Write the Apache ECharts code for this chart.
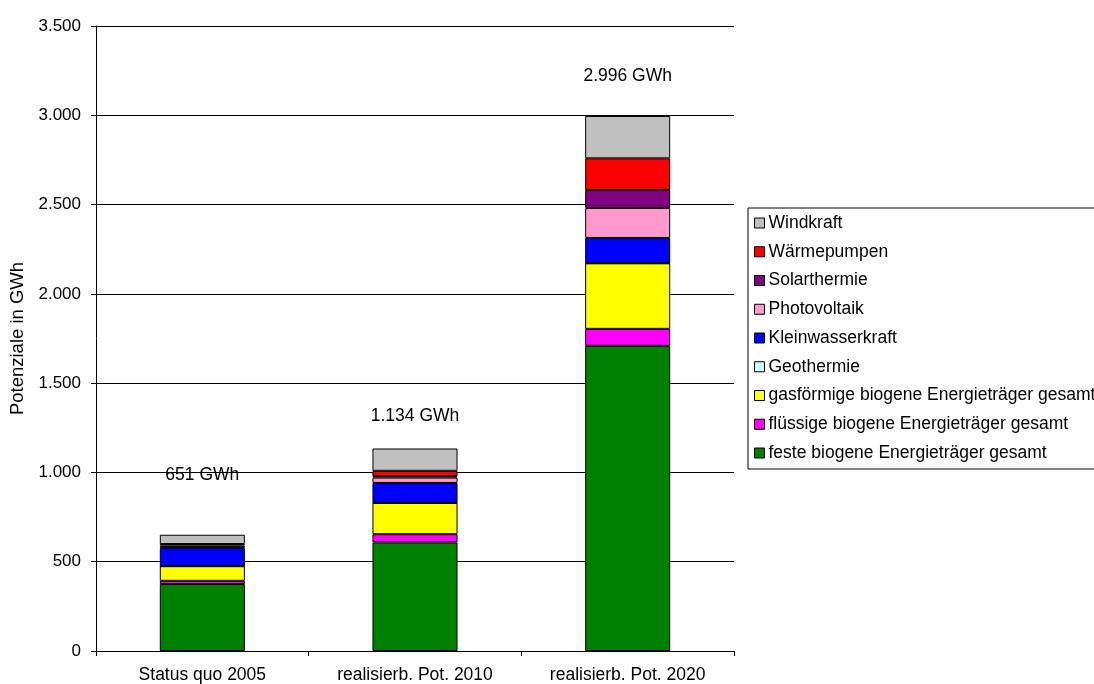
<!DOCTYPE html>
<html>
<head>
<meta charset="utf-8">
<script src="https://cdn.jsdelivr.net/npm/echarts@6/dist/echarts.min.js"></script>
<style>
  html, body { margin: 0; padding: 0; background: #fff; }
  #chart { width: 1094px; height: 684px; }
</style>
</head>
<body>
<div id="chart"></div>
<script>
// Categories (x axis)
const categories = ['Status quo 2005', 'realisierb. Pot. 2010', 'realisierb. Pot. 2020'];

// Energy sources in GWh, stacked bottom to top
const festeBiogen    = [375, 608, 1709];
const fluessigBiogen = [18, 46, 95];
const gasBiogen      = [82, 175, 367];
const geothermie     = [1, 2, 2];
const kleinwasser    = [100, 110, 140];
const photovoltaik   = [5, 30, 168];
const solarthermie   = [10, 8, 101];
const waermepumpen   = [8, 30, 177];
const windkraft      = [52, 125, 237];

// Y axis ticks
const yTicks = [0, 500, 1000, 1500, 2000, 2500, 3000, 3500];

const seriesDefs = [
  { name: 'feste biogene Energieträger gesamt', data: festeBiogen, color: '#008000' },
  { name: 'flüssige biogene Energieträger gesamt', data: fluessigBiogen, color: '#FF00FF' },
  { name: 'gasförmige biogene Energieträger gesamt', data: gasBiogen, color: '#FFFF00' },
  { name: 'Geothermie', data: geothermie, color: '#CCFFFF' },
  { name: 'Kleinwasserkraft', data: kleinwasser, color: '#0000FF' },
  { name: 'Photovoltaik', data: photovoltaik, color: '#FF99CC' },
  { name: 'Solarthermie', data: solarthermie, color: '#800080' },
  { name: 'Wärmepumpen', data: waermepumpen, color: '#FF0000' },
  { name: 'Windkraft', data: windkraft, color: '#C0C0C0' }
];

const totals = categories.map((_, i) => seriesDefs.reduce((s, d) => s + d.data[i], 0));
const fmt = v => String(v).replace(/\B(?=(\d{3})+(?!\d))/g, '.');
// vertical offsets of the total labels above each bar
const totalOffsets = [-60, -32, -40];

const FONT = 'Liberation Sans, Arial, sans-serif';
const FS = 17;

const series = seriesDefs.map(d => ({
  name: d.name,
  type: 'bar',
  stack: 'total',
  barWidth: '40%',
  data: d.data,
  itemStyle: { color: d.color, borderColor: '#000', borderWidth: 1 },
  emphasis: { disabled: true }
}));

series.push({
  name: 'Summe',
  type: 'scatter',
  symbolSize: 1,
  itemStyle: { color: 'rgba(0,0,0,0)', opacity: 1 },
  data: totals.map((t, i) => ({
    value: t,
    label: { offset: [0, totalOffsets[i]] }
  })),
  label: {
    show: true,
    position: 'inside',
    formatter: p => fmt(p.value) + ' GWh',
    color: '#000',
    opacity: 1,
    fontFamily: FONT,
    fontSize: 17.5
  },
  silent: true,
  z: 10
});

const chart = echarts.init(document.getElementById('chart'), null, { renderer: 'canvas' });
chart.setOption({
  animation: false,
  backgroundColor: '#fff',
  grid: { left: 96, right: 360, top: 26, bottom: 32, containLabel: false },
  xAxis: {
    type: 'category',
    data: categories,
    axisLine: { lineStyle: { color: '#000', width: 1 } },
    axisTick: { show: true, length: 5, lineStyle: { color: '#000' } },
    axisLabel: { color: '#000', fontFamily: FONT, fontSize: 17.5, margin: 15, interval: 0 },
    splitLine: { show: false }
  },
  yAxis: {
    type: 'value',
    min: yTicks[0],
    max: yTicks[yTicks.length - 1],
    interval: 500,
    name: 'Potenziale in GWh',
    nameLocation: 'middle',
    nameGap: 68,
    nameTextStyle: { color: '#000', fontFamily: FONT, fontSize: 18.5 },
    axisLine: { show: true, lineStyle: { color: '#000', width: 1 } },
    axisTick: { show: true, length: 5, lineStyle: { color: '#000' } },
    axisLabel: { color: '#000', fontFamily: FONT, fontSize: FS, margin: 15, formatter: v => fmt(v) },
    splitLine: { show: true, lineStyle: { color: '#000', width: 1 } }
  },
  legend: {
    orient: 'vertical',
    left: 748,
    top: 208,
    data: seriesDefs.map(d => d.name).reverse(),
    itemWidth: 10,
    itemHeight: 10,
    itemGap: 10.75,
    padding: [6, 40, 7, 6],
    backgroundColor: '#fff',
    borderColor: '#000',
    borderWidth: 1,
    borderRadius: 0,
    icon: 'rect',
    itemStyle: { borderColor: '#000', borderWidth: 1 },
    textStyle: { color: '#000', fontFamily: FONT, fontSize: 17.5, lineHeight: 17, padding: [0, 0, 0, -1] },
    selectedMode: false
  },
  series: series
});
</script>
</body>
</html>
